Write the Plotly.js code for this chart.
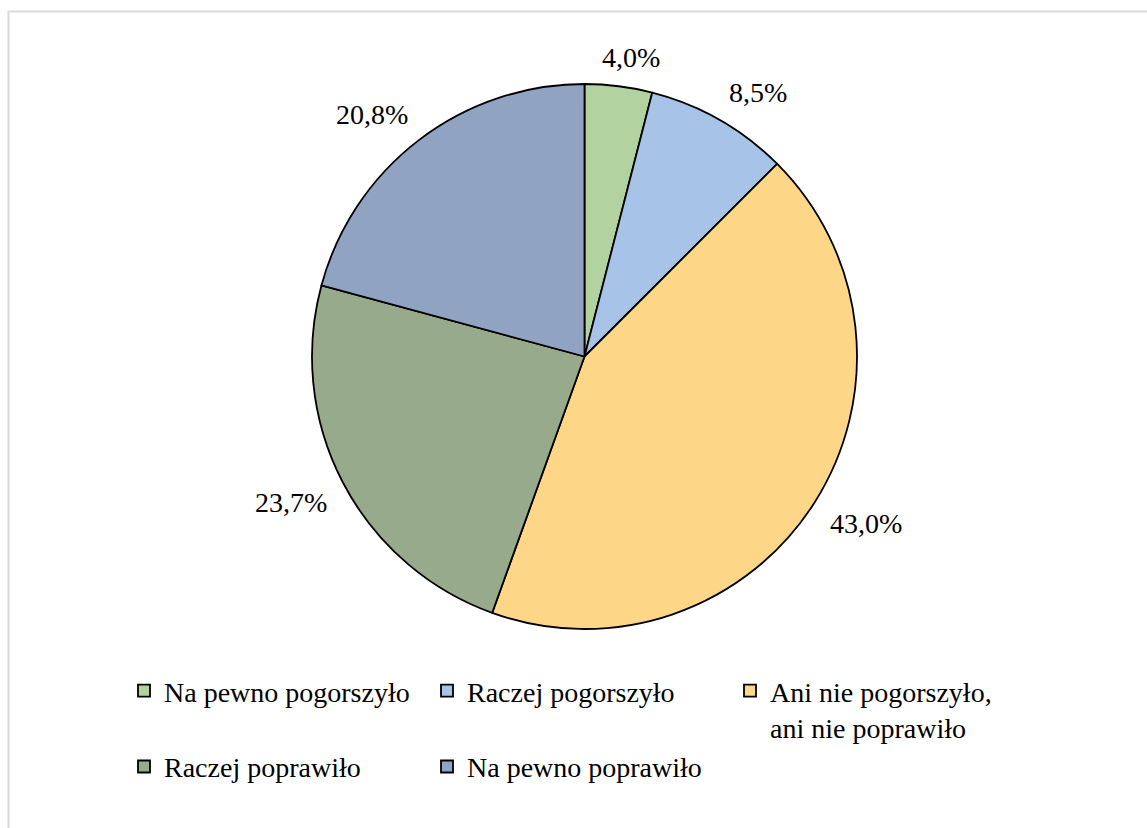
<!DOCTYPE html>
<html>
<head>
<meta charset="utf-8">
<script src="https://cdn.plot.ly/plotly-3.0.1.min.js"></script>
<style>
  html, body { margin: 0; padding: 0; background: #ffffff; }
  #chart { width: 1147px; height: 828px; }
</style>
</head>
<body>
<div id="chart"></div>
<script>
// ---- data ----
const categories = [
  "Na pewno pogorszyło",
  "Raczej pogorszyło",
  "Ani nie pogorszyło,<br>ani nie poprawiło",
  "Raczej poprawiło",
  "Na pewno poprawiło"
];
const values = [4.0, 8.5, 43.0, 23.7, 20.8];
const colors = ["#b2d39f", "#a7c3e7", "#fed688", "#97aa8c", "#90a3c3"];

// ---- layout constants (pixels) ----
const W = 1147, H = 828;
const CX = 584.5, CY = 356.5, R = 272.5;
const FONT = "Liberation Serif, Times New Roman, serif";
const LABEL_SIZE = 28;

const domainX = [(CX - R) / W, (CX + R) / W];
const domainY = [1 - (CY + R) / H, 1 - (CY - R) / H];

// measure text width for label placement
const ctx = document.createElement("canvas").getContext("2d");
ctx.font = LABEL_SIZE + "px 'Liberation Serif'";

// label annotations placed outside each slice at its mid-angle
const total = values.reduce((a, b) => a + b, 0);
const annotations = [];
let cum = 0;
values.forEach((v) => {
  const txt = v.toFixed(1).replace(".", ",") + "%";
  const hw = ctx.measureText(txt).width / 2;
  const hh = LABEL_SIZE * 0.4;
  const mid = (cum + v / 2) / total * 2 * Math.PI; // clockwise from 12 o'clock
  cum += v;
  const s = Math.sin(mid), c = Math.cos(mid);
  const D = R + 18;
  const fx = Math.sign(s) * Math.min(1, 2.8 * Math.abs(s));
  const fy = Math.sign(c) * Math.min(1, 2.5 * Math.abs(c));
  const px = CX + D * s + fx * hw;
  const py = CY - D * c - fy * hh;
  annotations.push({
    xref: "paper", yref: "paper",
    x: px / W, y: 1 - py / H,
    xanchor: "center", yanchor: "middle",
    text: txt,
    showarrow: false,
    font: { family: FONT, size: LABEL_SIZE, color: "#000000" }
  });
});

const trace = {
  type: "pie",
  labels: categories,
  values: values,
  sort: false,
  direction: "clockwise",
  rotation: 0,
  textinfo: "none",
  hoverinfo: "label+percent",
  marker: { colors: colors, line: { color: "#000000", width: 1.8 } },
  domain: { x: domainX, y: domainY }
};

const layout = {
  width: W, height: H,
  margin: { l: 0, r: 0, t: 0, b: 0 },
  paper_bgcolor: "#ffffff",
  plot_bgcolor: "#ffffff",
  showlegend: true,
  legend: {
    orientation: "h",
    x: 124 / W, xanchor: "left",
    y: 1 - 666 / H, yanchor: "top",
    entrywidth: 258, entrywidthmode: "pixels",
    valign: "top",
    traceorder: "normal",
    font: { family: FONT, size: 28, color: "#000000" },
    bgcolor: "rgba(0,0,0,0)"
  },
  annotations: annotations,
  shapes: [{
    type: "rect", xref: "paper", yref: "paper",
    x0: 8.5 / W, x1: 1.05, y0: -0.05, y1: 1 - 11.5 / H,
    line: { color: "#d9d9d9", width: 2 },
    fillcolor: "rgba(0,0,0,0)",
    layer: "below"
  }]
};

Plotly.newPlot("chart", [trace], layout, { displayModeBar: false, staticPlot: true });
</script>
</body>
</html>
